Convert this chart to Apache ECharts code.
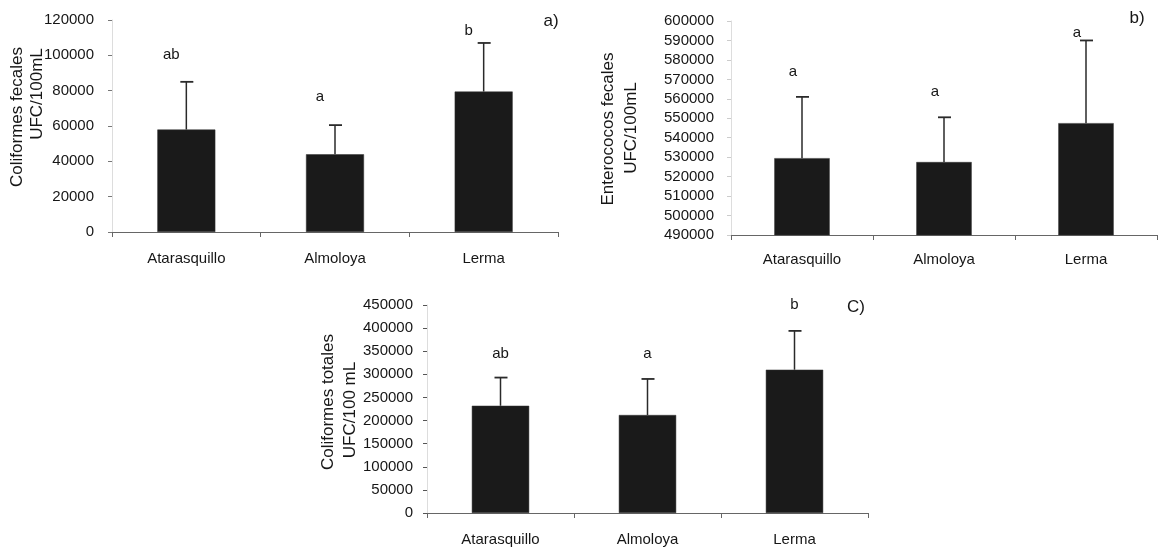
<!DOCTYPE html>
<html>
<head>
<meta charset="utf-8">
<script src="https://cdn.jsdelivr.net/npm/echarts@6/dist/echarts.min.js"></script>
<style>
html,body{margin:0;padding:0;background:#fff;}
#chart{width:1166px;height:554px;}
</style>
</head>
<body>
<div id="chart"></div>
<script>
// ---- data ----
const categories = ['Atarasquillo', 'Almoloya', 'Lerma'];

// a) Coliformes fecales
const fecalColiforms = [58000, 44000, 79500];
const fecalColiformsUpper = [85000, 60500, 107000];
const fecalColiformsLetters = ['ab', 'a', 'b'];
const fecalColiformsLetterY = [100000, 76500, 114000];
const axisA = [0, 120000, 20000];

// b) Enterococos fecales
const enterococci = [529500, 527500, 547500];
const enterococciUpper = [561000, 550500, 590000];
const enterococciLetters = ['a', 'a', 'a'];
const enterococciLetterY = [574000, 563500, 594000];
const axisB = [490000, 600000, 10000];

// c) Coliformes totales
const totalColiforms = [232000, 212000, 310000];
const totalColiformsUpper = [293000, 290000, 394000];
const totalColiformsLetters = ['ab', 'a', 'b'];
const totalColiformsLetterY = [343500, 343500, 450000];
const axisC = [0, 450000, 50000];

// ---- chart ----
const FONT = "'Liberation Sans', Arial, sans-serif";
const TXT = '#161616';

const grids = [
  {left: 112, right: 608, top: 20, bottom: 322},
  {left: 731, right: 9, top: 21, bottom: 319},
  {left: 427, right: 298, top: 305, bottom: 41}
];

const panels = [
  {vals: fecalColiforms, up: fecalColiformsUpper, letters: fecalColiformsLetters, ly: fecalColiformsLetterY, axis: axisA, lx: -15, lm: 18, xm: 19, tick: '#777'},
  {vals: enterococci, up: enterococciUpper, letters: enterococciLetters, ly: enterococciLetterY, axis: axisB, lx: -9, lm: 17, xm: 17, tick: '#cccccc'},
  {vals: totalColiforms, up: totalColiformsUpper, letters: totalColiformsLetters, ly: totalColiformsLetterY, axis: axisC, lx: 0, lm: 14, xm: 19, tick: '#555'}
];

const xAxes = panels.map((p, i) => ({
  type: 'category', gridIndex: i, data: categories,
  axisLine: {lineStyle: {color: '#666', width: 1}},
  axisTick: {show: true, length: 5, lineStyle: {color: '#666'}},
  axisLabel: {color: TXT, fontSize: 15, fontFamily: FONT, margin: p.xm}
}));

const yAxes = panels.map((p, i) => ({
  type: 'value', gridIndex: i, min: p.axis[0], max: p.axis[1], interval: p.axis[2],
  axisLine: {show: true, lineStyle: {color: '#dddddd', width: 1}},
  axisTick: {show: true, length: 4, lineStyle: {color: p.tick}},
  splitLine: {show: false},
  axisLabel: {color: TXT, fontSize: 15, fontFamily: FONT, margin: p.lm, formatter: v => String(v)}
}));

const series = [];
panels.forEach((p, i) => {
  series.push({
    type: 'bar', xAxisIndex: i, yAxisIndex: i, data: p.vals,
    barWidth: '39%',
    itemStyle: {color: '#1a1a1a', borderColor: '#333', borderWidth: 0.5},
    z: 2
  });
  series.push({
    type: 'custom', xAxisIndex: i, yAxisIndex: i,
    data: p.vals.map((v, k) => [k, v, p.up[k]]),
    encode: {x: 0, y: [1, 2]},
    z: 3,
    renderItem: function (params, api) {
      const x = api.value(0);
      const b = api.coord([x, api.value(1)]);
      const t = api.coord([x, api.value(2)]);
      return {
        type: 'group',
        children: [
          {type: 'line', shape: {x1: b[0], y1: b[1], x2: t[0], y2: t[1]}, style: {stroke: '#2a2a2a', lineWidth: 1.5}},
          {type: 'line', shape: {x1: t[0] - 6, y1: t[1], x2: t[0] + 7, y2: t[1]}, style: {stroke: '#2a2a2a', lineWidth: 1.8}}
        ]
      };
    }
  });
  series.push({
    type: 'custom', xAxisIndex: i, yAxisIndex: i,
    data: p.ly.map((v, k) => [k, v]),
    encode: {x: 0, y: 1},
    clip: false,
    z: 4,
    renderItem: function (params, api) {
      const c = api.coord([api.value(0), api.value(1)]);
      return {
        type: 'text', x: c[0] + p.lx, y: c[1],
        style: {text: p.letters[params.dataIndex], fill: TXT, font: '15px ' + FONT, align: 'center', verticalAlign: 'middle'}
      };
    }
  });
});

function vtext(txt, x, y, size) {
  return {type: 'text', x: x, y: y, rotation: Math.PI / 2,
    style: {text: txt, fill: TXT, font: size + 'px ' + FONT, align: 'center', verticalAlign: 'middle'}};
}
function htext(txt, x, y) {
  return {type: 'text', x: x, y: y,
    style: {text: txt, fill: TXT, font: '17px ' + FONT, align: 'center', verticalAlign: 'middle'}};
}

const option = {
  animation: false,
  backgroundColor: '#fff',
  grid: grids,
  xAxis: xAxes,
  yAxis: yAxes,
  series: series,
  graphic: [
    vtext('Coliformes fecales', 17, 117, 17),
    vtext('UFC/100mL', 37, 94, 17),
    vtext('Enterococos fecales', 608, 129, 17),
    vtext('UFC/100mL', 631, 128, 17),
    vtext('Coliformes totales', 328, 402, 17),
    vtext('UFC/100 mL', 350, 410, 17),
    htext('a)', 551, 21),
    htext('b)', 1137, 18),
    htext('C)', 856, 307)
  ]
};

const chart = echarts.init(document.getElementById('chart'), null, {renderer: 'canvas'});
chart.setOption(option);
</script>
</body>
</html>
